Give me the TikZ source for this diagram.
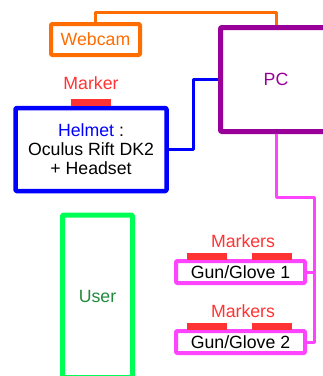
\documentclass[tikz,border=0pt]{standalone}
\usepackage{fontspec}
\setmainfont{Liberation Sans}
\definecolor{corange}{RGB}{255,108,0}
\definecolor{cblue}{RGB}{0,0,255}
\definecolor{cpurple}{RGB}{153,0,153}
\definecolor{cpink}{RGB}{255,68,255}
\definecolor{cgreen}{RGB}{0,255,85}
\definecolor{cdgreen}{RGB}{34,139,60}
\definecolor{cred}{RGB}{255,51,51}
\begin{document}
\begin{tikzpicture}[x=1pt,y=-1pt,
  every node/.style={font=\fontsize{17.7}{19}\selectfont},
  boxnode/.style={draw,line join=round,rounded corners=1pt,inner sep=0pt,fill=white},
  conn/.style={line width=3pt,line join=round},
  markerbar/.style={fill=cred,draw=none,inner sep=0pt,minimum width=40pt,minimum height=7pt},
  lbl/.style={inner sep=0pt}]
\useasboundingbox (0,0) rectangle (323,376);
% boxes
\node[boxnode,draw=corange,line width=4pt,minimum width=89pt,minimum height=31pt,text=corange] (webcam) at (95.5,39.5) {Webcam};
\node[boxnode,draw=cpurple,line width=5pt,minimum width=111pt,minimum height=104pt,text=cpurple] (pc) at (276,79.5) {PC};
\node[boxnode,draw=cblue,line width=4.5pt,minimum width=151pt,minimum height=83pt,align=center] (helmet) at (91,149.5) {\textcolor{cblue}{Helmet} :\\Oculus Rift DK2\\+ Headset};
\node[boxnode,draw=cgreen,line width=5pt,minimum width=70pt,minimum height=162.5pt,text=cdgreen] (user) at (97.5,296.25) {User};
\node[boxnode,draw=cpink,line width=4pt,minimum width=129pt,minimum height=22pt] (gun1) at (240.5,272) {Gun/Glove 1};
\node[boxnode,draw=cpink,line width=4pt,minimum width=129pt,minimum height=22pt] (gun2) at (240.5,342) {Gun/Glove 2};
% markers
\node[markerbar] (hm) at (91,102.5) {};
\node[lbl,text=cred] (hmlbl) at (91,83) {Marker};
\node[markerbar] (g1a) at (207,256.5) {};
\node[markerbar] (g1b) at (272,256.5) {};
\node[lbl,text=cred] (g1lbl) at (243,241) {Markers};
\node[markerbar] (g2a) at (207,326.5) {};
\node[markerbar] (g2b) at (272,326.5) {};
\node[lbl,text=cred] (g2lbl) at (243,311) {Markers};
% connectors
\coordinate (otop) at (0,12);
\draw[conn,corange] (webcam.north) -- (webcam.north |- otop) -| (pc.north);
\coordinate (bx) at (193,0);
\draw[conn,cblue] (helmet.east) -- (helmet.east -| bx) |- (pc.west);
\coordinate (pr) at (314.5,197);
\draw[conn,cpink] (pc.south) |- (pr) |- (gun2.east);
\draw[conn,cpink] (gun1.east) -- (gun1.east -| pr);
\end{tikzpicture}
\end{document}
